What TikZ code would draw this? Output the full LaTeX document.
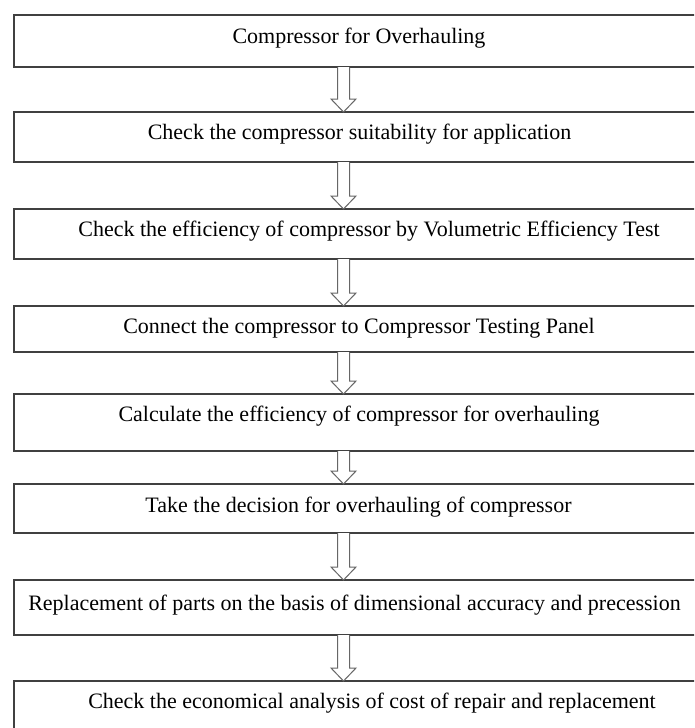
\documentclass[tikz,border=0pt]{standalone}
\usepackage{fontspec}
\setmainfont{Liberation Serif}
\usetikzlibrary{calc}
\tikzset{
  stepbox/.style={draw=black!75, line width=1.4pt, minimum width=690pt, anchor=north west, inner sep=0pt, outer sep=0pt},
  steptext/.style={anchor=base, inner sep=0pt, font=\fontsize{22}{26}\selectfont, text=black},
  hollow/.style={draw=black!60, line width=1pt, fill=white, line join=miter}
}
\newcommand{\hollowarrow}[2]{%
  \draw[hollow] ($(ax |- #1.south)+(-6,0)$) -- ($(ax |- #2.north)+(-6,-13)$) -- ($(ax |- #2.north)+(-12.5,-13)$)
   -- (ax |- #2.north) -- ($(ax |- #2.north)+(12.5,-13)$) -- ($(ax |- #2.north)+(6,-13)$) -- ($(ax |- #1.south)+(6,0)$);}
\begin{document}
\begin{tikzpicture}[x=1pt,y=-1pt]
\useasboundingbox (0,0) rectangle (694,728);
\clip (0,0) rectangle (694,728);
\coordinate (ax) at (343.5,0);
\node[stepbox, minimum height=52pt] (b1) at (14,15) {};
\node[stepbox, minimum height=50pt] (b2) at (14,112) {};
\node[stepbox, minimum height=50pt] (b3) at (14,209) {};
\node[stepbox, minimum height=46pt] (b4) at (14,306) {};
\node[stepbox, minimum height=57pt] (b5) at (14,394) {};
\node[stepbox, minimum height=49pt] (b6) at (14,484) {};
\node[stepbox, minimum height=55pt] (b7) at (14,580) {};
\node[stepbox, minimum height=60pt] (b8) at (14,681) {};
\node[steptext] (t1) at (359,43) {Compressor for Overhauling};
\node[steptext] (t2) at (359.5,139) {Check the compressor suitability for application};
\node[steptext] (t3) at (369,236) {Check the efficiency of compressor by Volumetric Efficiency Test};
\node[steptext] (t4) at (359,333) {Connect the compressor to Compressor Testing Panel};
\node[steptext] (t5) at (359,421) {Calculate the efficiency of compressor for overhauling};
\node[steptext] (t6) at (358.5,512) {Take the decision for overhauling of compressor};
\node[steptext] (t7) at (354.5,610) {Replacement of parts on the basis of dimensional accuracy and precession};
\node[steptext] (t8) at (372,708) {Check the economical analysis of cost of repair and replacement};
\hollowarrow{b1}{b2}
\hollowarrow{b2}{b3}
\hollowarrow{b3}{b4}
\hollowarrow{b4}{b5}
\hollowarrow{b5}{b6}
\hollowarrow{b6}{b7}
\hollowarrow{b7}{b8}
\end{tikzpicture}
\end{document}
